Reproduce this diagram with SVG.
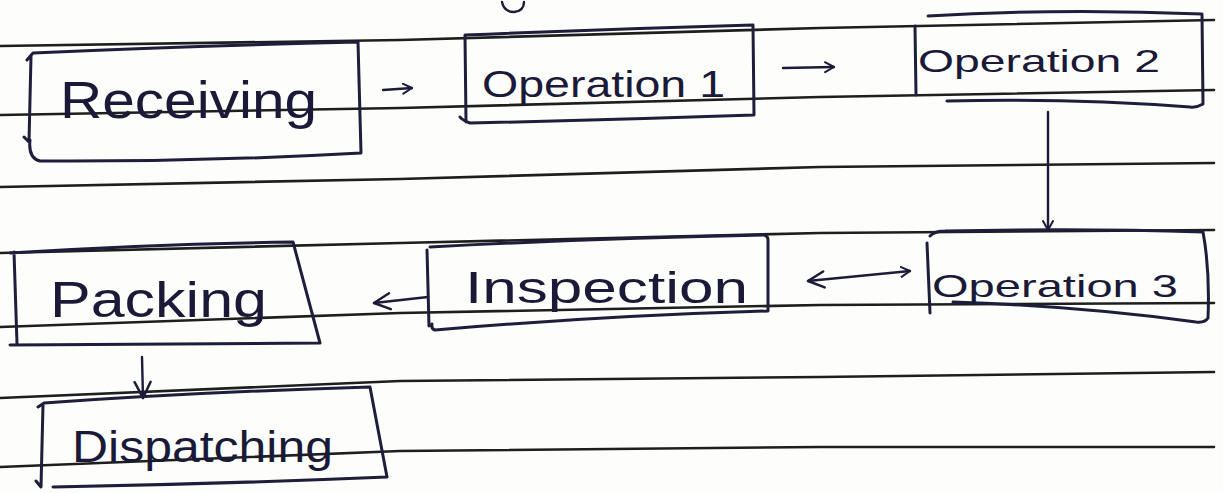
<svg xmlns="http://www.w3.org/2000/svg" width="1223" height="493" viewBox="0 0 1223 493">
  <defs>
    <marker id="arr" viewBox="0 0 12 12" refX="10" refY="6" markerWidth="12" markerHeight="12" markerUnits="userSpaceOnUse" orient="auto-start-reverse">
      <path d="M1,1 L10,6 L1,11" fill="none" stroke="#1c1c3a" stroke-width="2" stroke-linecap="round" stroke-linejoin="round"/>
    </marker>
    <marker id="arrBig" viewBox="0 0 20 20" refX="18" refY="10" markerWidth="20" markerHeight="20" markerUnits="userSpaceOnUse" orient="auto-start-reverse">
      <path d="M2,2 L18,10 L2,18" fill="none" stroke="#1c1c3a" stroke-width="2.5" stroke-linecap="round" stroke-linejoin="round"/>
    </marker>
  </defs>
  <style>
    .paper { fill: #fdfdfb; }
    .rule { fill: none; stroke: #1e1e1e; stroke-width: 2.6; stroke-linecap: round; stroke-linejoin: round; }
    .box { fill: none; stroke: #1d1d3c; stroke-width: 3; stroke-linecap: round; stroke-linejoin: round; }
    .ink { fill: none; stroke: #1c1c3a; stroke-width: 2.4; stroke-linecap: round; stroke-linejoin: round; }
    .lbl { font-family: "Liberation Sans", "DejaVu Sans", sans-serif; fill: #1a1a38; }
  </style>
  <rect class="paper" x="0" y="0" width="1223" height="493"/>

  <!-- ruled paper lines -->
  <g id="paper-lines">
    <polyline class="rule" points="0,46 400,40 820,28 1214,20"/>
    <polyline class="rule" points="0,115 400,108 820,97 1214,90"/>
    <polyline class="rule" points="0,187 400,179 820,167 1214,163"/>
    <polyline class="rule" points="0,253 400,243 820,233 1214,230"/>
    <polyline class="rule" points="0,327 400,313 820,305 1214,303"/>
    <polyline class="rule" points="0,398 400,381 820,377 1214,372"/>
    <polyline class="rule" points="0,467 400,451 820,447 1214,447"/>
    <path class="ink" d="M502,2 Q504,12 514,12 Q524,11 524,2"/>
  </g>

  <g id="node-receiving">
    <path class="box" d="M27,60 L33,53 Q190,46 358,42 L361,153 Q200,162 40,161 Q28,158 30,140 M31,56 L29,142 L24,137"/>
    <text class="lbl" x="60" y="118" font-size="52" textLength="257" lengthAdjust="spacingAndGlyphs">Receiving</text>
  </g>

  <g id="node-op1">
    <path class="box" d="M465,35 Q610,29 753,25 L754,115 Q610,120 470,123 Q462,120 460,117 M465,35 L466,122"/>
    <text class="lbl" x="482" y="97" font-size="36" textLength="243" lengthAdjust="spacingAndGlyphs">Operation 1</text>
  </g>

  <g id="node-op2">
    <path class="box" d="M928,16 Q1060,8 1202,14 L1203,104 Q1196,108 1190,107 Q1070,98 947,101 M915,26 L916,95"/>
    <text class="lbl" x="918" y="72" font-size="32" textLength="242" lengthAdjust="spacingAndGlyphs">Operation 2</text>
  </g>

  <g id="node-op3">
    <path class="box" d="M930,236 Q935,231 945,231 Q1080,228 1203,232 Q1210,270 1208,318 Q1205,323 1196,322 Q1080,306 953,302 M927,243 L930,313"/>
    <text class="lbl" x="932" y="297" font-size="32" textLength="246" lengthAdjust="spacingAndGlyphs">Operation 3</text>
  </g>

  <g id="node-inspection">
    <path class="box" d="M430,247 Q600,238 764,235 Q768,236 768,240 L768,311 Q600,316 435,330 Q431,329 432,324 M427,250 L429,326"/>
    <text class="lbl" x="465" y="303" font-size="44" textLength="283" lengthAdjust="spacingAndGlyphs">Inspection</text>
  </g>

  <g id="node-packing">
    <path class="box" d="M10,253 Q150,244 293,242 L320,343 Q160,344 10,345 M14,252 L17,344"/>
    <text class="lbl" x="50" y="317" font-size="50" textLength="217" lengthAdjust="spacingAndGlyphs">Packing</text>
  </g>

  <g id="node-dispatching">
    <path class="box" d="M38,407 L44,403 Q200,392 370,387 L387,477 Q220,484 53,487 M43,405 L41,487 L36,481"/>
    <text class="lbl" x="72" y="462" font-size="44" textLength="261" lengthAdjust="spacingAndGlyphs">Dispatching</text>
  </g>

  <g id="connectors">
    <path class="ink" d="M383,90 L412,88" marker-end="url(#arr)"/>
    <path class="ink" d="M783,68 L834,67" marker-end="url(#arr)"/>
    <path class="ink" d="M1048,112 L1048,230" marker-end="url(#arr)"/>
    <path class="ink" d="M808,281 L910,271" marker-start="url(#arrBig)" marker-end="url(#arr)"/>
    <path class="ink" d="M428,297 L374,303" marker-end="url(#arrBig)"/>
    <path class="ink" d="M142,357 L143,398" marker-end="url(#arrBig)"/>
  </g>
</svg>
